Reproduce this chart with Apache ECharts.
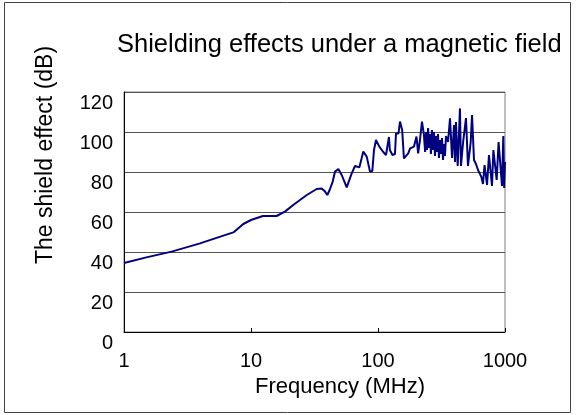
<!DOCTYPE html>
<html>
<head>
<meta charset="utf-8">
<script src="https://cdn.jsdelivr.net/npm/echarts@6/dist/echarts.min.js"></script>
<style>
html,body{margin:0;padding:0;background:#fff;}
#c{width:577px;height:415px;}
</style>
</head>
<body>
<div id="c"></div>
<script>
var titleText = 'Shielding effects under a magnetic field';
var xAxisName = 'Frequency (MHz)';
var yAxisName = 'The shield effect (dB)';
var yTicks = [0, 20, 40, 60, 80, 100, 120];
var xTicks = [1, 10, 100, 1000];

var freqMHz = [
  1, 1.5, 2.37, 3.97, 5.5, 7.26, 8.7, 10, 12.4, 15.9, 18.5, 21.5, 24.3, 27.5,
  32.9, 36, 38.3, 39.9, 41.6, 44, 45.9, 48.7, 51.8, 56.7, 62.1, 65.9, 71.3,
  76.6, 81.5, 86.5, 90.2, 93, 96.4, 102.4, 110, 115.6, 118, 122, 124, 130,
  136, 138.6, 145, 149, 155, 160, 173, 179, 185, 192, 201, 207, 214, 222, 230,
  235, 239, 243, 248, 252, 257, 261, 266, 271, 276, 281, 286, 292, 297, 302,
  308, 313, 319, 325, 331, 337, 343, 356, 369, 383, 397, 404, 411, 424, 442,
  450, 468, 493, 511, 537, 550, 570, 591, 613, 635, 650, 671, 690, 722, 748,
  790, 810, 860, 890, 947, 970, 985, 1000
];
var shieldDb = [
  34.5, 37.3, 40.2, 44.3, 47.3, 49.8, 54, 56, 58, 58, 60.2, 63.5, 66, 68.5,
  71.5, 71.8, 70.2, 68.5, 71, 75.2, 80.2, 81.5, 78.5, 72.3, 79.3, 83, 82.3,
  90.2, 87.7, 80.2, 80.5, 91, 96, 92.7, 90, 88.5, 89.5, 97.5, 91, 88.5,
  89, 99.3, 99.3, 105.2, 101, 86.8, 89.3, 91.8, 92.7, 92.7, 97.7, 89.3, 96, 105.2, 98.5,
  90, 100, 91, 102, 92, 99, 89, 101, 91, 100, 88, 98, 90, 99, 87, 96,
  89, 97, 86, 94, 88, 98, 95, 106.8, 87, 103.5, 85, 105, 83, 111.8, 83,
  95, 107, 83, 95, 108.5, 86, 84, 81, 80, 77.7, 74, 83.5, 73.5, 88.5, 73,
  91, 76, 95, 73, 98, 72, 85, 70
];

var seriesData = freqMHz.map(function (f, i) { return [f, shieldDb[i]]; });

var chart = echarts.init(document.getElementById('c'), null, {renderer: 'canvas'});
var fontFam = '"Liberation Sans", Arial, sans-serif';
chart.setOption({
  backgroundColor: '#fff',
  animation: false,
  title: {
    text: titleText,
    left: 112, top: 27,
    textStyle: {fontFamily: fontFam, fontSize: 25.5, fontWeight: 'normal', color: '#000'}
  },
  grid: {left: 124, right: 72, top: 92, bottom: 83, show: true, borderColor: '#808080', borderWidth: 1},
  xAxis: {
    type: 'log', logBase: 10, min: xTicks[0], max: xTicks[xTicks.length - 1],
    axisLine: {show: true, onZero: false, lineStyle: {color: '#000', width: 1}},
    axisTick: {show: true, inside: true, length: 4, lineStyle: {color: '#000'}},
    minorTick: {show: false},
    splitLine: {show: false},
    axisLabel: {fontFamily: fontFam, fontSize: 20, color: '#000', margin: 19,
      formatter: function (v) { return String(Math.round(v)); }}
  },
  yAxis: {
    type: 'value', min: yTicks[0], max: yTicks[yTicks.length - 1], interval: 20,
    axisLine: {show: true, lineStyle: {color: '#000', width: 1}},
    axisTick: {show: false},
    splitLine: {show: true, lineStyle: {color: '#555', width: 1}},
    axisLabel: {fontFamily: fontFam, fontSize: 20, color: '#000', margin: 11, verticalAlign: 'top', padding: [1, 0, 0, 0]}
  },
  series: [{
    type: 'line',
    data: seriesData,
    showSymbol: false,
    symbol: 'none',
    lineStyle: {color: '#000080', width: 2},
    itemStyle: {color: '#000080'}
  }],
  graphic: [
    {type: 'rect', shape: {x: 4.5, y: 2.5, width: 566, height: 410}, style: {fill: null, stroke: '#444', lineWidth: 1}, z: -1},
    {type: 'text', x: 46, y: 155, rotation: Math.PI / 2,
      style: {text: yAxisName, font: '23px ' + fontFam, fill: '#000', textAlign: 'center', textVerticalAlign: 'middle'}},
    {type: 'text', x: 340, y: 387,
      style: {text: xAxisName, font: '22px ' + fontFam, fill: '#000', textAlign: 'center', textVerticalAlign: 'middle'}}
  ]
});
</script>
</body>
</html>
